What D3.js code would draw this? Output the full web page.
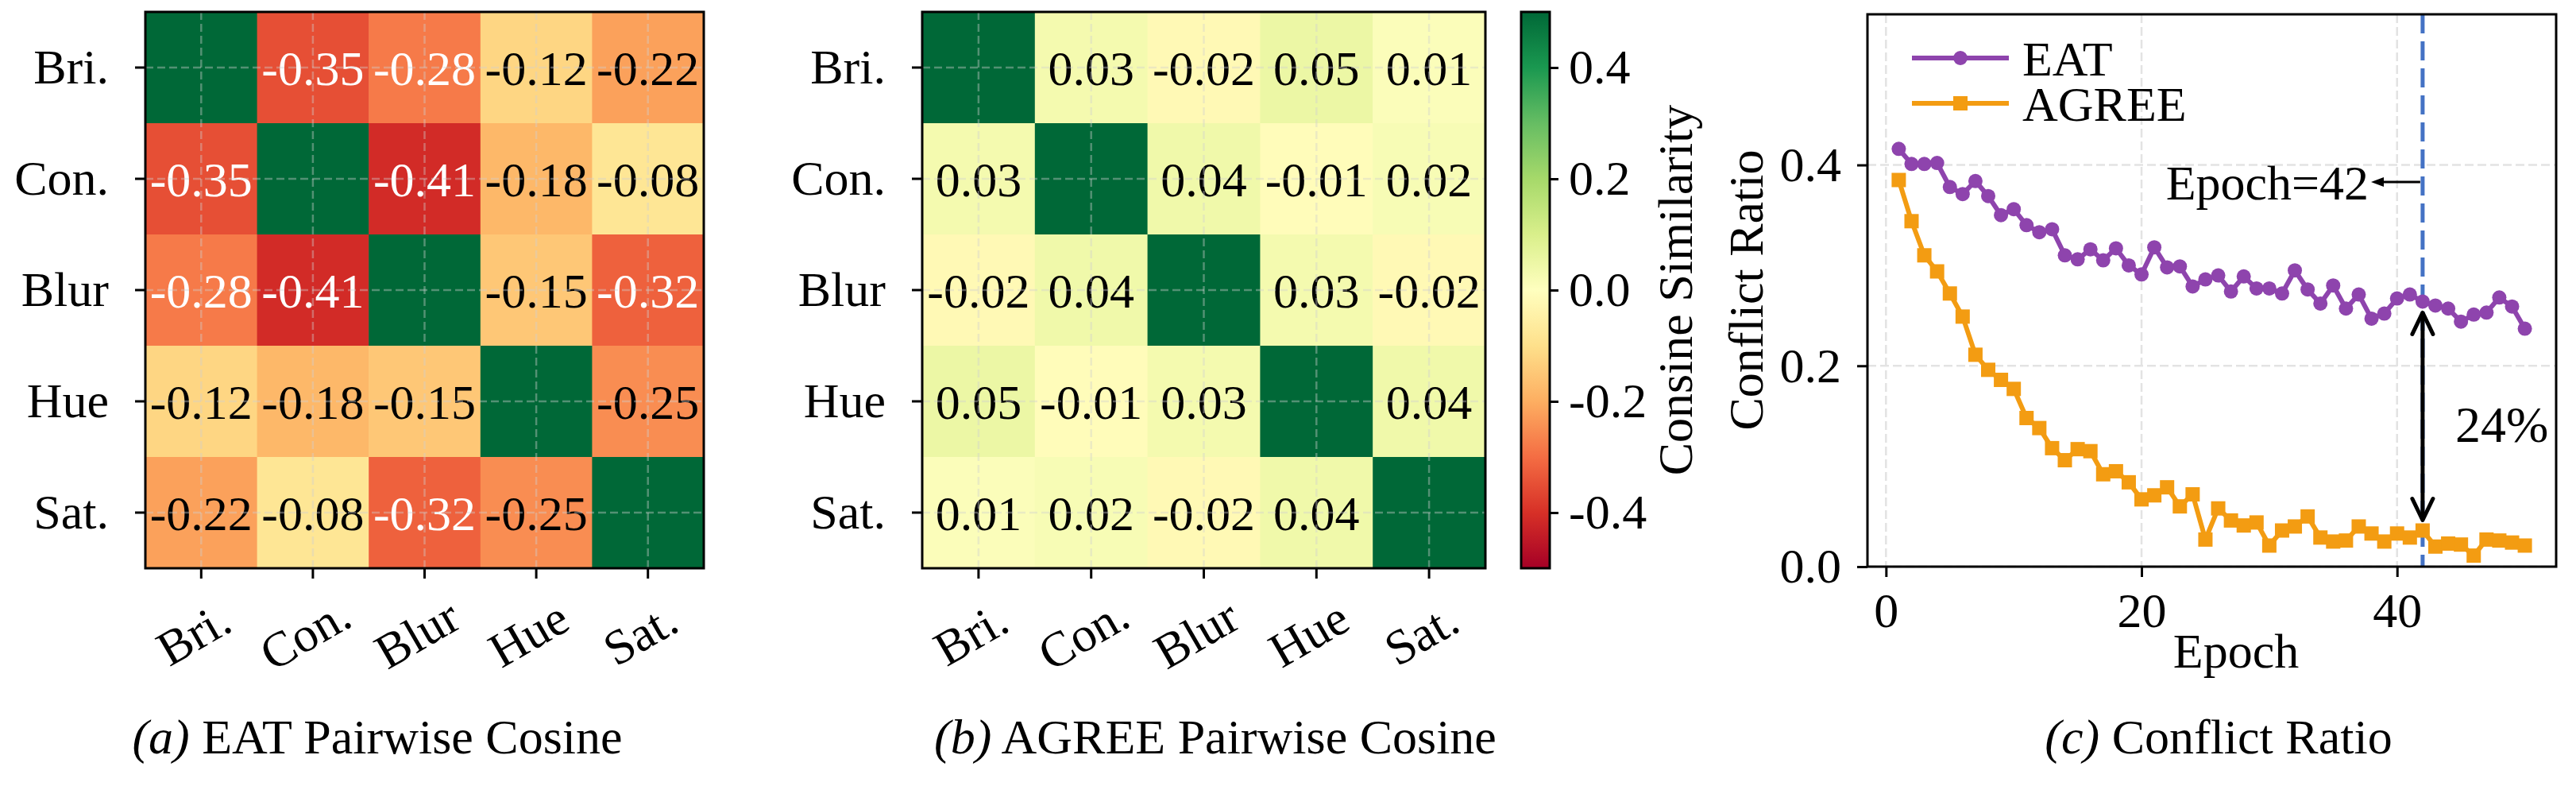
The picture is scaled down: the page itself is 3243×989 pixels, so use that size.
<!DOCTYPE html>
<html>
<head>
<meta charset="utf-8">
<script src="https://cdn.jsdelivr.net/npm/d3@7"></script>
<style>
body { margin: 0; background: #fff; }
text { font-family: "Liberation Serif", "Times New Roman", serif; }
</style>
</head>
<body>
<script>
// augmentation names, shared by both heatmaps
const augLabels = ["Bri.", "Con.", "Blur", "Hue", "Sat."]

// pairwise cosine, diagonal = self similarity
const eatCosine = [
    [1, -0.35, -0.28, -0.12, -0.22],
    [-0.35, 1, -0.41, -0.18, -0.08],
    [-0.28, -0.41, 1, -0.15, -0.32],
    [-0.12, -0.18, -0.15, 1, -0.25],
    [-0.22, -0.08, -0.32, -0.25, 1]
]
const agreeCosine = [
    [1, 0.03, -0.02, 0.05, 0.01],
    [0.03, 1, 0.04, -0.01, 0.02],
    [-0.02, 0.04, 1, 0.03, -0.02],
    [0.05, -0.01, 0.03, 1, 0.04],
    [0.01, 0.02, -0.02, 0.04, 1]
]
const colorbarTicks = [0.4, 0.2, 0.0, -0.2, -0.4]

// conflict ratio per epoch
const epochs = [1, 2, 3, 4, 5, 6, 7, 8, 9, 10, 11, 12, 13, 14, 15, 16, 17, 18, 19, 20,
    21, 22, 23, 24, 25, 26, 27, 28, 29, 30, 31, 32, 33, 34, 35, 36, 37, 38, 39, 40,
    41, 42, 43, 44, 45, 46, 47, 48, 49, 50]
const eatConflict = [0.416, 0.401, 0.401, 0.402, 0.378, 0.371, 0.384, 0.369, 0.350, 0.356,
    0.340, 0.333, 0.336, 0.310, 0.306, 0.316, 0.305, 0.317, 0.300, 0.291,
    0.318, 0.298, 0.299, 0.279, 0.286, 0.290, 0.274, 0.289, 0.277, 0.277,
    0.272, 0.295, 0.276, 0.262, 0.280, 0.257, 0.271, 0.247, 0.252, 0.267,
    0.271, 0.264, 0.260, 0.257, 0.244, 0.251, 0.253, 0.268, 0.259, 0.237]
const agreeConflict = [0.385, 0.344, 0.310, 0.294, 0.272, 0.249, 0.211, 0.196, 0.186, 0.177,
    0.148, 0.138, 0.118, 0.106, 0.117, 0.115, 0.092, 0.095, 0.084, 0.067,
    0.071, 0.079, 0.060, 0.072, 0.027, 0.058, 0.046, 0.041, 0.044, 0.021,
    0.036, 0.040, 0.050, 0.029, 0.025, 0.026, 0.040, 0.033, 0.025, 0.033,
    0.029, 0.036, 0.020, 0.023, 0.022, 0.011, 0.027, 0.026, 0.024, 0.021]
const xTicks = [0, 20, 40]
const yTicks = [0.0, 0.2, 0.4]
const markedEpoch = 42
const gapText = "24%"

const FS = 62
let svg = d3.select("body")
        .append("svg")
        .attr("width", 3243)
        .attr("height", 989)
        .style("background-color", "white")

// matplotlib RdYlGn is a plain linear ramp between the 11 brewer colours
const rdylgn = ["#a50026", "#d73027", "#f46d43", "#fdae61", "#fee08b", "#ffffbf",
                "#d9ef8b", "#a6d96a", "#66bd63", "#1a9850", "#006837"]
let color = d3.scaleLinear()
        .domain(rdylgn.map((c, i) => -0.5 + i * 0.1))
        .range(rdylgn)
        .clamp(true)

function luminance(c){
    let rgb = d3.rgb(c)
    let lin = v => { v = v / 255; return v <= 0.03928 ? v / 12.92 : Math.pow((v + 0.055) / 1.055, 2.4) }
    return 0.2126 * lin(rgb.r) + 0.7152 * lin(rgb.g) + 0.0722 * lin(rgb.b)
}

function styleAxis(g){
    g.select(".domain").remove()
    g.attr("font-size", FS).attr("font-family", null)
    g.selectAll(".tick line").attr("stroke", "#000").attr("stroke-width", 3)
    g.selectAll(".tick text").attr("fill", "#000")
}

function drawHeatmap(matrix, box){
    let x = d3.scaleBand().domain(augLabels).range([box.x0, box.x1])
    let y = d3.scaleBand().domain(augLabels).range([box.y0, box.y1])
    let cells = matrix.flatMap((row, i) => row.map((v, j) => ({row: augLabels[i], col: augLabels[j], v: v, diag: i === j})))
    let g = svg.append("g")

    g.selectAll("rect.cell")
        .data(cells)
        .enter()
        .append("rect")
            .attr("x", d => x(d.col))
            .attr("y", d => y(d.row))
            .attr("width", x.bandwidth() + 0.6)
            .attr("height", y.bandwidth() + 0.6)
            .attr("fill", d => color(d.v))

    // numbers, diagonal left empty
    g.selectAll("text.ann")
        .data(cells.filter(d => !d.diag))
        .enter()
        .append("text")
            .attr("x", d => x(d.col) + x.bandwidth() / 2)
            .attr("y", d => y(d.row) + y.bandwidth() / 2)
            .attr("text-anchor", "middle")
            .attr("dy", "0.35em")
            .attr("font-size", FS)
            .attr("fill", d => luminance(color(d.v)) > 0.39 ? "#000" : "#fff")
            .text(d => d.v.toFixed(2))

    // dashed grid through cell centres
    g.selectAll("line.gx")
        .data(augLabels)
        .enter()
        .append("line")
            .attr("x1", d => x(d) + x.bandwidth() / 2)
            .attr("x2", d => x(d) + x.bandwidth() / 2)
            .attr("y1", box.y0).attr("y2", box.y1)
    g.selectAll("line.gy")
        .data(augLabels)
        .enter()
        .append("line")
            .attr("y1", d => y(d) + y.bandwidth() / 2)
            .attr("y2", d => y(d) + y.bandwidth() / 2)
            .attr("x1", box.x0).attr("x2", box.x1)
    g.selectAll("line")
        .attr("stroke", "#d0d0d0")
        .attr("stroke-opacity", 0.4)
        .attr("stroke-width", 2.5)
        .attr("stroke-dasharray", "10,5")

    g.append("rect")
        .attr("x", box.x0).attr("y", box.y0)
        .attr("width", box.x1 - box.x0).attr("height", box.y1 - box.y0)
        .attr("fill", "none").attr("stroke", "#000").attr("stroke-width", 3)

    let yAxis = svg.append("g")
        .attr("transform", "translate(" + box.x0 + ",0)")
        .call(d3.axisLeft(y).tickSize(13).tickPadding(33))
    styleAxis(yAxis)

    let xAxis = svg.append("g")
        .attr("transform", "translate(0," + box.y1 + ")")
        .call(d3.axisBottom(x).tickSize(13))
    styleAxis(xAxis)
    xAxis.selectAll(".tick text")
        .attr("y", 0)
        .attr("dy", "0.35em")
        .attr("text-anchor", "middle")
        .attr("transform", "translate(-10,82) rotate(-30)")
}

drawHeatmap(eatCosine, {x0: 183, x1: 886, y0: 15, y1: 715})
drawHeatmap(agreeCosine, {x0: 1161, x1: 1870, y0: 15, y1: 715})

// colorbar
let cb = {x0: 1915, x1: 1951, y0: 15, y1: 715}
let cbScale = d3.scaleLinear().domain([-0.5, 0.5]).range([cb.y1, cb.y0])
let grad = svg.append("defs").append("linearGradient")
        .attr("id", "cbGrad")
        .attr("x1", 0).attr("y1", 1).attr("x2", 0).attr("y2", 0)
grad.selectAll("stop")
    .data(color.domain())
    .enter()
    .append("stop")
        .attr("offset", d => (d + 0.5))
        .attr("stop-color", d => color(d))
svg.append("rect")
    .attr("x", cb.x0).attr("y", cb.y0)
    .attr("width", cb.x1 - cb.x0).attr("height", cb.y1 - cb.y0)
    .attr("fill", "url(#cbGrad)")
    .attr("stroke", "#000").attr("stroke-width", 3)
let cbAxis = svg.append("g")
    .attr("transform", "translate(" + cb.x1 + ",0)")
    .call(d3.axisRight(cbScale).tickValues(colorbarTicks).tickFormat(d => d.toFixed(1)).tickSize(11).tickPadding(13))
styleAxis(cbAxis)
svg.append("text")
    .attr("transform", "translate(2108,365) rotate(-90)")
    .attr("text-anchor", "middle")
    .attr("dy", "0.35em")
    .attr("font-size", FS)
    .text("Consine Similarity")

// conflict ratio line chart
let lc = {x0: 2351, x1: 3218, y0: 18, y1: 713}
let x = d3.scaleLinear().domain([-1.45, 52.45]).range([lc.x0, lc.x1])
let y = d3.scaleLinear().domain([0, 0.55]).range([lc.y1, lc.y0])

svg.append("g").selectAll("line")
    .data(xTicks)
    .enter()
    .append("line")
        .attr("x1", d => x(d)).attr("x2", d => x(d))
        .attr("y1", lc.y0).attr("y2", lc.y1)
        .attr("stroke", "#e3e3e3").attr("stroke-width", 2.5).attr("stroke-dasharray", "11,5")
svg.append("g").selectAll("line")
    .data(yTicks)
    .enter()
    .append("line")
        .attr("y1", d => y(d)).attr("y2", d => y(d))
        .attr("x1", lc.x0).attr("x2", lc.x1)
        .attr("stroke", "#e3e3e3").attr("stroke-width", 2.5).attr("stroke-dasharray", "11,5")

svg.append("line")
    .attr("x1", x(markedEpoch)).attr("x2", x(markedEpoch))
    .attr("y1", lc.y0).attr("y2", lc.y1)
    .attr("stroke", "#4472c4").attr("stroke-width", 5).attr("stroke-dasharray", "24,10")

let series = [
    {name: "EAT", values: eatConflict, color: "#8e44ad", marker: "circle"},
    {name: "AGREE", values: agreeConflict, color: "#f39c12", marker: "square"}
]
let line = d3.line().x(d => x(d[0])).y(d => y(d[1]))
series.forEach(s => {
    let pts = epochs.map((e, i) => [e, s.values[i]])
    svg.append("path")
        .datum(pts)
        .attr("d", line)
        .attr("fill", "none")
        .attr("stroke", s.color)
        .attr("stroke-width", 6)
        .attr("stroke-linejoin", "round")
    if (s.marker === "circle"){
        svg.append("g").selectAll("circle")
            .data(pts).enter().append("circle")
                .attr("cx", d => x(d[0])).attr("cy", d => y(d[1]))
                .attr("r", 9).attr("fill", s.color)
    } else {
        svg.append("g").selectAll("rect")
            .data(pts).enter().append("rect")
                .attr("x", d => x(d[0]) - 9).attr("y", d => y(d[1]) - 9)
                .attr("width", 18).attr("height", 18).attr("fill", s.color)
    }
})

svg.append("rect")
    .attr("x", lc.x0).attr("y", lc.y0)
    .attr("width", lc.x1 - lc.x0).attr("height", lc.y1 - lc.y0)
    .attr("fill", "none").attr("stroke", "#000").attr("stroke-width", 3)

let lyAxis = svg.append("g")
    .attr("transform", "translate(" + lc.x0 + ",0)")
    .call(d3.axisLeft(y).tickValues(yTicks).tickFormat(d => d.toFixed(1)).tickSize(13).tickPadding(20))
styleAxis(lyAxis)
let lxAxis = svg.append("g")
    .attr("transform", "translate(0," + lc.y1 + ")")
    .call(d3.axisBottom(x).tickValues(xTicks).tickFormat(d => d).tickSize(13).tickPadding(19))
styleAxis(lxAxis)

svg.append("text")
    .attr("x", 2815).attr("y", 840)
    .attr("text-anchor", "middle")
    .attr("font-size", FS)
    .text("Epoch")
svg.append("text")
    .attr("transform", "translate(2197,365) rotate(-90)")
    .attr("text-anchor", "middle")
    .attr("dy", "0.35em")
    .attr("font-size", FS)
    .text("Conflict Ratio")

// legend, no frame
series.forEach((s, i) => {
    let ly = 73 + i * 57
    svg.append("line")
        .attr("x1", 2407).attr("x2", 2529).attr("y1", ly).attr("y2", ly)
        .attr("stroke", s.color).attr("stroke-width", 6)
    if (s.marker === "circle"){
        svg.append("circle").attr("cx", 2468).attr("cy", ly).attr("r", 9).attr("fill", s.color)
    } else {
        svg.append("rect").attr("x", 2468 - 9).attr("y", ly - 9).attr("width", 18).attr("height", 18).attr("fill", s.color)
    }
    svg.append("text")
        .attr("x", 2546).attr("y", ly)
        .attr("dy", "0.35em")
        .attr("font-size", FS)
        .text(s.name)
})

// gap arrow at the marked epoch
let idx = epochs.indexOf(markedEpoch)
let ax = x(markedEpoch)
let topTip = y(eatConflict[idx]) + 14
let botTip = y(agreeConflict[idx]) - 13
let arrows = svg.append("g")
        .attr("stroke", "#000")
        .attr("stroke-width", 5)
        .attr("fill", "none")
        .attr("stroke-linecap", "round")
        .attr("stroke-linejoin", "round")
arrows.append("line").attr("x1", ax).attr("x2", ax).attr("y1", topTip + 2).attr("y2", botTip - 2)
arrows.append("polyline").attr("points", [[ax - 13, topTip + 27], [ax, topTip], [ax + 13, topTip + 27]].join(" "))
arrows.append("polyline").attr("points", [[ax - 13, botTip - 27], [ax, botTip], [ax + 13, botTip - 27]].join(" "))
svg.append("text")
    .attr("x", 3091).attr("y", 556)
    .attr("font-size", 64)
    .text(gapText)

// "Epoch=42" pointer
let noteY = y(0.383)
svg.append("line")
    .attr("x1", ax - 3).attr("x2", 2998).attr("y1", noteY).attr("y2", noteY)
    .attr("stroke", "#000").attr("stroke-width", 3)
svg.append("path")
    .attr("d", "M2985," + noteY + " L3001," + (noteY - 6) + " L3001," + (noteY + 6) + " Z")
    .attr("fill", "#000")
svg.append("text")
    .attr("x", 2982).attr("y", noteY)
    .attr("dy", "0.35em")
    .attr("text-anchor", "end")
    .attr("font-size", FS)
    .text("Epoch=" + markedEpoch)

// sub-captions
let captions = [
    {x: 475, tag: "(a)", rest: " EAT Pairwise Cosine"},
    {x: 1530, tag: "(b)", rest: " AGREE Pairwise Cosine"},
    {x: 2793, tag: "(c)", rest: " Conflict Ratio"}
]
captions.forEach(c => {
    let t = svg.append("text")
        .attr("x", c.x).attr("y", 948)
        .attr("text-anchor", "middle")
        .attr("font-size", FS)
    t.append("tspan").attr("font-style", "italic").text(c.tag)
    t.append("tspan").text(c.rest)
})
</script>
</body>
</html>
